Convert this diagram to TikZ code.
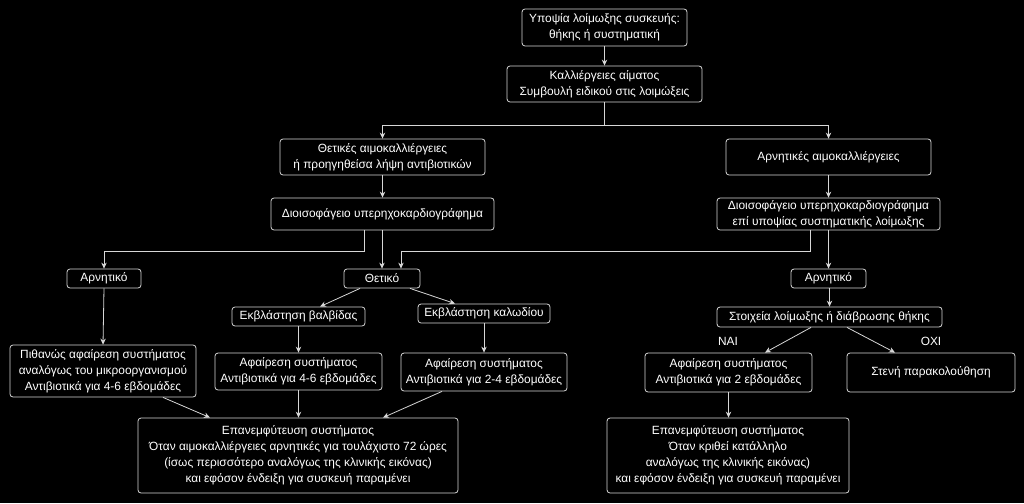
\documentclass[tikz,border=0pt]{standalone}
\usepackage{fontspec}
\setmainfont{Liberation Sans}
\usetikzlibrary{arrows.meta}
\definecolor{ln}{RGB}{215,215,215}
\tikzset{
  bx/.style={draw=ln, line width=0.8pt, rounded corners=3pt, text=white, align=center, inner sep=0pt,
    font=\fontsize{11.9}{16}\selectfont},
  lbl/.style={text=white, inner sep=0pt, font=\fontsize{11.9}{16}\selectfont},
  arr/.style={draw=ln, line width=0.8pt, -{Stealth[length=6pt,width=5.5pt]}},
  ln0/.style={draw=ln, line width=0.8pt}
}
\begin{document}
\begin{tikzpicture}[x=1pt,y=-1pt]
\fill[black] (0,0) rectangle (1024,503);
\useasboundingbox (0,0) rectangle (1024,503);
% nodes
\node[bx, minimum width=165, minimum height=37] (n1) at (604.5,27.5) {Υποψία λοίμωξης συσκευής:\\θήκης ή συστηματική};
\node[bx, minimum width=195, minimum height=36] (n2) at (604.5,84) {Καλλιέργειες αίματος\\Συμβουλή ειδικού στις λοιμώξεις};
\node[bx, minimum width=205, minimum height=36] (n3) at (382.5,157) {Θετικές αιμοκαλλιέργειες\\ή προηγηθείσα λήψη αντιβιοτικών};
\node[bx, minimum width=205, minimum height=36] (n4) at (828.5,157) {Αρνητικές αιμοκαλλιέργειες};
\node[bx, minimum width=223, minimum height=32] (n5) at (382.5,214) {Διοισοφάγειο υπερηχοκαρδιογράφημα};
\node[bx, minimum width=223, minimum height=32] (n6) at (828.5,214) {Διοισοφάγειο υπερηχοκαρδιογράφημα\\επί υποψίας συστηματικής λοίμωξης};
\node[bx, minimum width=74, minimum height=19] (n7) at (104,278.5) {Αρνητικό};
\node[bx, minimum width=76, minimum height=19] (n8) at (382,278.5) {Θετικό};
\node[bx, minimum width=75, minimum height=19] (n9) at (828.5,278.5) {Αρνητικό};
\node[bx, minimum width=133, minimum height=19] (n10) at (298.5,316.5) {Εκβλάστηση βαλβίδας};
\node[bx, minimum width=132, minimum height=19] (n11) at (484,313.5) {Εκβλάστηση καλωδίου};
\node[bx, minimum width=225, minimum height=20] (n12) at (829.5,317) {Στοιχεία λοίμωξης ή διάβρωσης θήκης};
\node[bx, minimum width=186, minimum height=52] (n13) at (103,371) {Πιθανώς αφαίρεση συστήματος\\αναλόγως του μικροοργανισμού\\Αντιβιοτικά για 4-6 εβδομάδες};
\node[bx, minimum width=167, minimum height=37] (n14) at (298.5,371.5) {Αφαίρεση συστήματος\\Αντιβιοτικά για 4-6 εβδομάδες};
\node[bx, minimum width=166, minimum height=38] (n15) at (484,372) {Αφαίρεση συστήματος\\Αντιβιοτικά για 2-4 εβδομάδες};
\node[bx, minimum width=167, minimum height=39] (n16) at (728.5,372.5) {Αφαίρεση συστήματος\\Αντιβιοτικά για 2 εβδομάδες};
\node[bx, minimum width=168, minimum height=39] (n17) at (931,372.5) {Στενή παρακολούθηση};
\node[bx, minimum width=320, minimum height=75] (n18) at (298,455.5) {Επανεμφύτευση συστήματος\\Όταν αιμοκαλλιέργειες αρνητικές για τουλάχιστο 72 ώρες\\(ίσως περισσότερο αναλόγως της κλινικής εικόνας)\\και εφόσον ένδειξη για συσκευή παραμένει};
\node[bx, minimum width=242, minimum height=75] (n19) at (728,455.5) {Επανεμφύτευση συστήματος\\Όταν κριθεί κατάλληλο\\αναλόγως της κλινικής εικόνας)\\και εφόσον ένδειξη για συσκευή παραμένει};
\node[lbl] (yes) at (728,341) {ΝΑΙ};
\node[lbl] (no) at (931,341) {ΟΧΙ};
% levels
\coordinate (y125) at (0,125);
\coordinate (y251) at (0,251);
% connectors
\draw[arr] (n1.south) -- (n2.north);
\draw[ln0] (n2.south) -- (n2.south |- y125);
\draw[arr] (n2.south |- y125) -| (n3.north);
\draw[arr] (n2.south |- y125) -| (n4.north);
\draw[arr] (n3.south) -- (n5.north);
\draw[arr] (n4.south) -- (n6.north);
\draw[arr] ([xshift=-18.5pt]n5.south) |- (n7.north |- y251) -- (n7.north);
\draw[arr] (n8.north |- n5.south) -- (n8.north);
\draw[arr] ([xshift=-18.5pt]n6.south) |- ([xshift=19pt]n8.north |- y251) -- ([xshift=19pt]n8.north);
\draw[arr] (n9.north |- n6.south) -- (n9.north);
\draw[arr] (n7.south) -- (n13.north);
\draw[arr] ([xshift=-22pt]n8.south) -- ([xshift=21.5pt]n10.north);
\draw[arr] ([xshift=28pt]n8.south) -- ([xshift=-29pt]n11.north);
\draw[arr] (n10.south) -- (n14.north);
\draw[arr] (n11.south) -- (n15.north);
\draw[arr] (n9.south) -- (n12.north |- n9.south) -- (n12.north);
\draw[arr] ([xshift=-18.5pt]n12.south) -- ([xshift=36.5pt]n16.north);
\draw[arr] ([xshift=17.5pt]n12.south) -- ([xshift=-36pt]n17.north);
\draw[arr] ([xshift=60pt]n13.south) -- ([xshift=-88pt]n18.north);
\draw[arr] (n14.south) -- (n14.south |- n18.north);
\draw[arr] ([xshift=-42pt]n15.south) -- ([xshift=85pt]n18.north);
\draw[arr] (n16.south) -- (n16.south |- n19.north);
\end{tikzpicture}
\end{document}
